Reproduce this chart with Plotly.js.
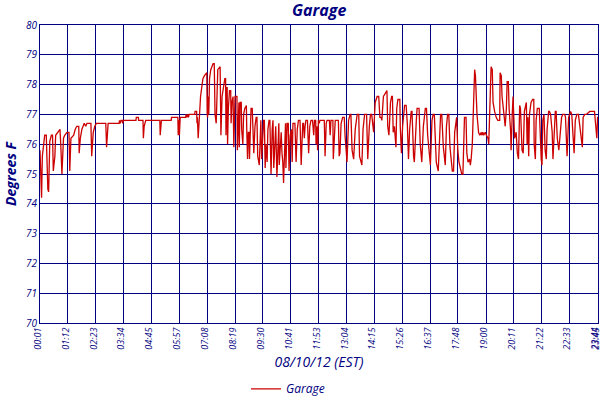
<!DOCTYPE html>
<html>
<head>
<meta charset="utf-8">
<script src="https://cdn.plot.ly/plotly-3.0.1.min.js"></script>
<style>
  html, body { margin: 0; padding: 0; background: #fff; }
  #chart { width: 600px; height: 400px; }
</style>
</head>
<body>
<div id="chart"></div>
<script>
// minutes after midnight on 08/10/12, with the garage temperature read at each one
var minutes = [
    1, 3, 5, 7, 10, 13, 17, 19, 21, 23, 26, 30, 33, 35, 39, 41, 47, 52, 54, 57, 61, 64, 70, 75, 77, 80, 87, 91, 95, 100,
    101, 104, 108, 111, 114, 118, 121, 131, 133, 137, 141, 145, 169, 171, 175,
    203, 204, 206, 208, 211, 212, 214, 246, 247, 252, 253, 264, 265, 267, 271, 307, 308, 311, 336, 337, 353, 354,
    356, 357, 359, 373, 374, 376, 378, 380, 382, 396, 397, 401, 402, 403, 405, 407, 409, 411, 414, 417, 421, 425, 427, 428,
    429, 430, 432, 434, 437, 440, 443, 446, 448, 451, 453, 455, 461, 463, 466, 470, 473, 475, 476, 478, 479, 480,
    482, 485, 488, 489, 491, 494, 496, 499, 504, 505, 507, 509, 510, 512, 515, 516, 519, 521, 524, 528, 529, 531,
    533, 535, 536, 538, 540, 543, 545, 547, 550, 553, 555, 557, 561, 563, 565, 567, 569, 572, 574, 576, 578, 581,
    583, 586, 588, 591, 594, 596, 598, 601, 603, 606, 609, 611, 612, 615, 617, 619, 621, 623, 626, 628, 629, 632,
    635, 637, 639, 640, 643, 645, 647, 652, 655, 658, 661, 665, 668, 670, 672, 674, 676, 678, 680, 684, 687, 690,
    693, 697, 700, 702, 705, 706, 708, 710, 712,
    714, 716, 727, 729, 732, 734, 740, 742, 744, 749, 750, 753, 755, 763, 765, 767, 770, 774, 778, 780, 782, 785,
    789, 793, 795, 798, 802, 806, 811, 815, 817, 823, 826, 830, 835, 838, 842, 845, 848, 851, 853, 857, 862, 866,
    869, 872, 874, 878, 883, 887, 889, 892,
    894, 896, 899, 901, 903, 906, 910, 912, 915, 920, 921, 924, 927, 932, 936, 939, 942, 945, 949, 951, 955, 957,
    962, 964, 969, 972, 976, 980, 985, 988, 991, 996, 998, 1002, 1005, 1008, 1013, 1018, 1022, 1024, 1027, 1031,
    1036, 1039, 1042, 1045, 1048, 1054, 1057, 1060, 1065, 1068, 1071,
    1075, 1078, 1081, 1083, 1085, 1089, 1091, 1094, 1098, 1100, 1102, 1105, 1108, 1111, 1113, 1115, 1117, 1119,
    1121, 1124, 1128, 1129, 1132, 1134, 1138, 1141, 1145, 1147, 1150, 1153, 1156, 1158, 1162, 1166, 1170, 1175,
    1176, 1179, 1181, 1186, 1189, 1192, 1194, 1197, 1199, 1203, 1204, 1207, 1209, 1213, 1217, 1220, 1223, 1226,
    1228, 1232, 1235, 1238, 1243, 1245, 1247, 1249,
    1251, 1254, 1255, 1259, 1262, 1263, 1266, 1268, 1271, 1276, 1278, 1281, 1283, 1285, 1288, 1291, 1294, 1296,
    1300, 1302, 1305, 1307, 1309, 1311, 1315, 1317, 1319, 1322, 1326, 1330, 1333, 1336, 1341, 1343, 1347, 1351,
    1356, 1359, 1362, 1365, 1368, 1372, 1376, 1381, 1386, 1388, 1392, 1396, 1405, 1417, 1420, 1423, 1425, 1426
];
var temps = [
    75.8, 74.7, 74.2, 75.6, 76.0, 76.3, 76.3, 75.1, 74.5, 74.4, 76.1, 76.3, 76.3, 75.1, 75.6, 76.3, 76.4, 76.5, 76.0, 75.0, 76.2, 76.3, 76.4, 76.4, 75.1, 76.2, 76.3, 76.5, 76.6, 76.6,
    75.7, 76.2, 76.5, 76.6, 76.7, 76.6, 76.7, 76.7, 75.6, 76.4, 76.6, 76.7, 76.7, 75.9, 76.7,
    76.7, 76.8, 76.7, 76.8, 76.8, 76.7, 76.8, 76.8, 76.9, 76.9, 76.8, 76.8, 76.2, 76.6, 76.8, 76.8, 76.3, 76.8, 76.8, 76.9, 76.9, 76.3,
    76.8, 76.3, 76.9, 76.9, 77.0, 76.9, 77.0, 76.9, 77.0, 77.0, 77.1, 77.1, 76.7, 76.9, 76.2, 76.6, 77.3, 77.6, 77.9, 78.2, 78.3, 78.4, 78.4, 77.0,
    76.9, 77.6, 77.0, 78.2, 78.5, 78.6, 78.7, 78.7, 77.0, 76.7, 77.9, 78.5, 78.6, 76.3, 77.6, 78.0, 78.2, 78.2, 76.3, 77.9, 77.9, 76.0,
    77.2, 77.8, 77.8, 76.7, 77.4, 77.6, 75.9, 77.6, 77.6, 75.8, 77.0, 77.4, 75.9, 77.4, 77.4, 76.5, 76.0, 77.0, 77.2, 77.3, 76.5, 75.5,
    76.4, 76.4, 75.5, 76.9, 77.2, 77.2, 76.0, 75.7, 76.6, 76.9, 76.9, 75.6, 75.3, 76.4, 76.8, 75.5, 76.3, 76.8, 76.8, 75.2, 76.0, 75.4,
    76.5, 76.8, 76.8, 75.0, 76.5, 76.8, 75.2, 76.1, 76.6, 74.9, 76.2, 76.7, 75.3, 76.0, 76.4, 75.7, 75.4, 74.7, 76.3, 76.7, 75.2, 76.7,
    76.7, 75.1, 75.9, 76.3, 76.5, 75.4, 76.7, 76.7, 75.4, 76.5, 76.8, 76.8, 75.3, 76.5, 76.7, 76.7, 76.2, 76.6, 76.8, 76.8, 75.7, 76.6,
    76.8, 76.8, 76.3, 76.8, 76.8, 76.0, 76.6, 75.8, 76.8,
    76.7, 76.8, 76.8, 75.6, 76.7, 76.8, 76.8, 76.3, 76.8, 76.8, 75.5, 76.4, 76.8, 76.8, 75.6, 75.7, 76.7, 76.9, 76.9, 76.3, 76.0, 75.4,
    76.8, 77.0, 77.0, 75.8, 75.5, 76.5, 77.0, 77.0, 75.6, 75.3, 76.5, 77.0, 77.0, 75.5, 76.6, 77.0, 77.0, 76.6, 76.4, 77.4, 77.6, 77.6,
    76.9, 76.9, 76.8, 77.6, 77.7, 77.8, 76.6, 76.3,
    76.8, 77.4, 77.6, 77.6, 76.4, 76.6, 75.9, 77.2, 77.5, 77.5, 76.6, 75.7, 76.6, 77.3, 77.3, 76.7, 75.5, 76.5, 77.1, 77.1, 75.6, 75.4,
    76.8, 77.2, 77.2, 76.0, 75.4, 76.6, 77.2, 77.2, 76.3, 75.5, 75.3, 76.8, 77.0, 77.0, 75.4, 75.1, 76.8, 77.0, 77.0, 75.9,
    75.3, 76.6, 77.0, 77.0, 75.9, 75.1, 75.1, 76.4, 76.9, 75.8, 75.4,
    75.2, 75.0, 75.0, 75.9, 76.9, 76.9, 75.7, 75.4, 75.5, 75.3, 75.5, 76.0, 77.3, 78.5, 78.3, 77.1, 77.0, 76.7,
    76.4, 76.3, 76.4, 76.3, 76.4, 76.3, 76.4, 76.3, 76.2, 76.0, 77.7, 78.6, 78.5, 77.4, 77.1, 76.9, 76.8, 76.8,
    78.4, 78.3, 77.6, 76.8, 76.6, 77.2, 78.1, 78.1, 77.2, 76.4, 75.8, 77.0, 77.6, 76.2, 76.4, 75.7, 75.5, 77.3,
    77.2, 75.8, 75.7, 77.1, 77.4, 76.0, 76.9, 75.6,
    77.0, 77.3, 77.4, 77.5, 77.5, 76.0, 75.5, 76.8, 77.2, 77.2, 76.3, 75.5, 75.3, 76.8, 77.0, 75.8, 75.5, 76.5,
    77.1, 77.1, 77.0, 76.7, 76.4, 75.5, 76.8, 77.1, 77.1, 76.2, 75.8, 76.6, 76.9, 77.0, 77.0, 76.9, 75.6, 76.9,
    77.1, 77.0, 76.2, 75.7, 76.8, 77.0, 77.0, 76.4, 75.9, 76.9, 77.0, 77.0, 77.1, 77.1, 76.7, 76.2, 76.9, 76.9
];

var tickMinutes = [1, 72, 143, 214, 285, 357, 428, 499, 570, 641, 713, 784, 855, 926, 997, 1068, 1140, 1211, 1282, 1353, 1424, 1425];
var tickLabels = ['00:01', '01:12', '02:23', '03:34', '04:45', '05:57', '07:08', '08:19', '09:30', '10:41', '11:53',
    '13:04', '14:15', '15:26', '16:37', '17:48', '19:00', '20:11', '21:22', '22:33', '23:44', '23:45'];

if (minutes.length != temps.length) {
    console.log('length mismatch', minutes.length, temps.length);
}

var navy = '#000080';
var font = 'Open Sans, DejaVu Sans, sans-serif';

var data = [{
    x: minutes,
    y: temps,
    type: 'scatter',
    mode: 'lines',
    name: 'Garage',
    line: { color: '#cc0000', width: 1.3 }
}];

var layout = {
    width: 600,
    height: 400,
    margin: { l: 40, r: 2, t: 25, b: 77 },
    paper_bgcolor: '#ffffff',
    plot_bgcolor: '#ffffff',
    font: { family: font, color: navy, size: 10, style: 'italic' },
    title: {
        text: 'Garage',
        x: 0.532, xanchor: 'center',
        y: 0.975, yanchor: 'middle',
        font: { family: font, size: 16, weight: 'bold', style: 'italic', color: navy }
    },
    xaxis: {
        range: [1, 1426],
        tickmode: 'array',
        tickvals: tickMinutes,
        ticktext: tickLabels,
        tickangle: -90,
        ticklabeloverflow: 'allow',
        ticklabelshift: -2,
        tickfont: { family: font, size: 9, style: 'italic', color: navy },
        ticks: '',
        showgrid: true,
        gridcolor: navy,
        gridwidth: 1,
        zeroline: false,
        showline: true,
        mirror: true,
        linecolor: navy,
        linewidth: 1,
        automargin: false,
        title: {
            text: '08/10/12 (EST)',
            standoff: 8,
            font: { family: font, size: 14, style: 'italic', color: navy }
        }
    },
    yaxis: {
        range: [70, 80],
        dtick: 1,
        tickfont: { family: font, size: 10, style: 'italic', color: navy },
        ticks: '',
        showgrid: true,
        gridcolor: navy,
        gridwidth: 1,
        zeroline: false,
        showline: true,
        mirror: true,
        linecolor: navy,
        linewidth: 1,
        automargin: false,
        title: {
            text: 'Degrees F',
            standoff: 6,
            font: { family: font, size: 14, weight: 'bold', style: 'italic', color: navy }
        }
    },
    showlegend: true,
    legend: {
        orientation: 'h',
        xref: 'container',
        yref: 'container',
        x: 0.48, xanchor: 'center',
        y: 0.028, yanchor: 'middle',
        font: { family: font, size: 12, style: 'italic', color: navy },
        itemwidth: 30
    }
};

Plotly.newPlot('chart', data, layout, { displayModeBar: false, staticPlot: true });
</script>
</body>
</html>
